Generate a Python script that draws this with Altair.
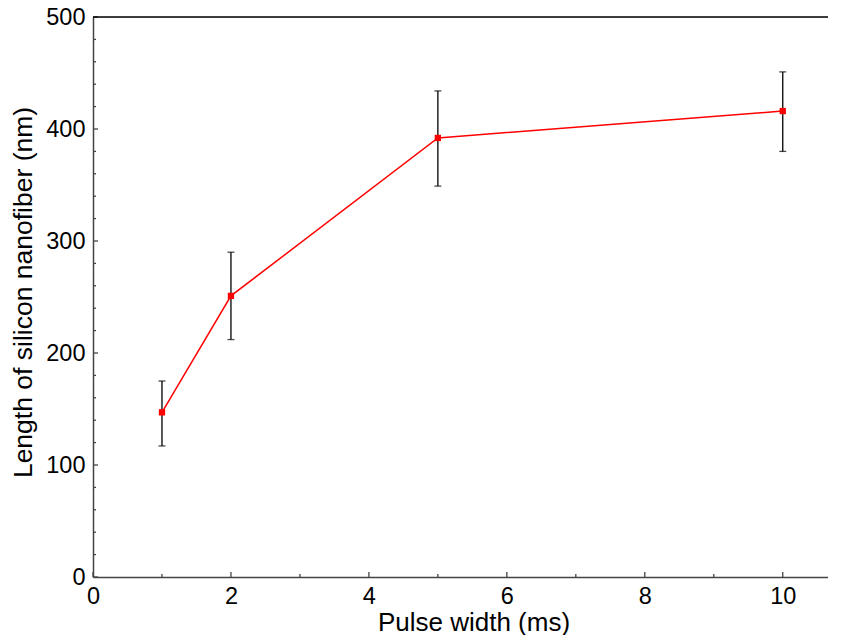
import altair as alt
import pandas as pd

pulse = [1, 2, 5, 10]
length = [147, 251, 392, 416]
err_hi = [175, 290, 434, 451]
err_lo = [117, 212, 349, 380]

x_major = [0, 2, 4, 6, 8, 10]
x_minor = [1, 3, 5, 7, 9]
y_major = [0, 100, 200, 300, 400, 500]
y_minor = [v for v in range(20, 500, 20) if v % 100 != 0]

W, H = 747, 560
df = pd.DataFrame({"x": pulse, "y": length, "hi": err_hi, "lo": err_lo})

xs = alt.Scale(domain=[0, 10.83], nice=False, zero=False)
ys = alt.Scale(domain=[0, 500], nice=False)
FONT = "Liberation Sans"

base = alt.Chart(df)

xaxis = alt.Axis(values=x_major, ticks=False, domainColor="#444", domainWidth=1.5,
                 labelFontSize=23.5, labelColor="black", labelFont=FONT, labelPadding=7,
                 labelFlush=False,
                 title="Pulse width (ms)", titleFontSize=26, titleFont=FONT,
                 titleFontWeight="normal", titleColor="black", titlePadding=2,
                 titleX=W / 2 + 7, grid=False)
yaxis = alt.Axis(values=y_major, ticks=False, domainColor="#444", domainWidth=1.5,
                 labelFontSize=23.5, labelColor="black", labelFont=FONT, labelPadding=8,
                 labelFlush=False,
                 title="Length of silicon nanofiber (nm)", titleFontSize=26.5, titleFont=FONT,
                 titleFontWeight="normal", titleColor="black", titlePadding=8,
                 titleY=H / 2 - 5, grid=False)

X = lambda f: alt.X(f, scale=xs, axis=xaxis)
Y = lambda f: alt.Y(f, scale=ys, axis=yaxis)

line = base.mark_line(color="#ff0000", strokeWidth=1.5).encode(x=X("x:Q"), y=Y("y:Q"))
bars = base.mark_rule(color="black", strokeWidth=1.3).encode(x=X("x:Q"), y=Y("lo:Q"), y2="hi:Q")
cap_hi = base.mark_tick(color="black", orient="horizontal", size=7, thickness=1.3).encode(
    x=X("x:Q"), y=Y("hi:Q"))
cap_lo = base.mark_tick(color="black", orient="horizontal", size=7, thickness=1.3).encode(
    x=X("x:Q"), y=Y("lo:Q"))
pts = base.mark_square(color="#ff0000", size=40, opacity=1).encode(x=X("x:Q"), y=Y("y:Q"))

xmaj = alt.Chart(pd.DataFrame({"v": x_major})).mark_rule(color="#444", strokeWidth=1.3).encode(
    x=X("v:Q"), y=alt.value(H), y2=alt.value(H - 5))
xmin = alt.Chart(pd.DataFrame({"v": x_minor})).mark_rule(color="#444", strokeWidth=1.3).encode(
    x=X("v:Q"), y=alt.value(H), y2=alt.value(H - 3))
ymaj = alt.Chart(pd.DataFrame({"v": y_major})).mark_rule(color="#444", strokeWidth=1.3).encode(
    y=Y("v:Q"), x=alt.value(0), x2=alt.value(5))
ymin = alt.Chart(pd.DataFrame({"v": y_minor})).mark_rule(color="#444", strokeWidth=1.3).encode(
    y=Y("v:Q"), x=alt.value(0), x2=alt.value(3))
top = alt.Chart(pd.DataFrame({"v": [0]})).mark_rule(color="black", strokeWidth=1.5).encode(
    x=alt.value(0), x2=alt.value(W), y=alt.value(0))

chart = alt.layer(line, bars, cap_hi, cap_lo, pts, xmaj, xmin, ymaj, ymin, top).properties(
    width=W, height=H,
    autosize=alt.AutoSizeParams(type="none"),
    padding={"left": 85, "top": 9, "right": -12, "bottom": 62},
).configure_view(stroke=None).configure(background="white")

chart.save("out.html", embed_options={"renderer": "svg", "actions": False})
